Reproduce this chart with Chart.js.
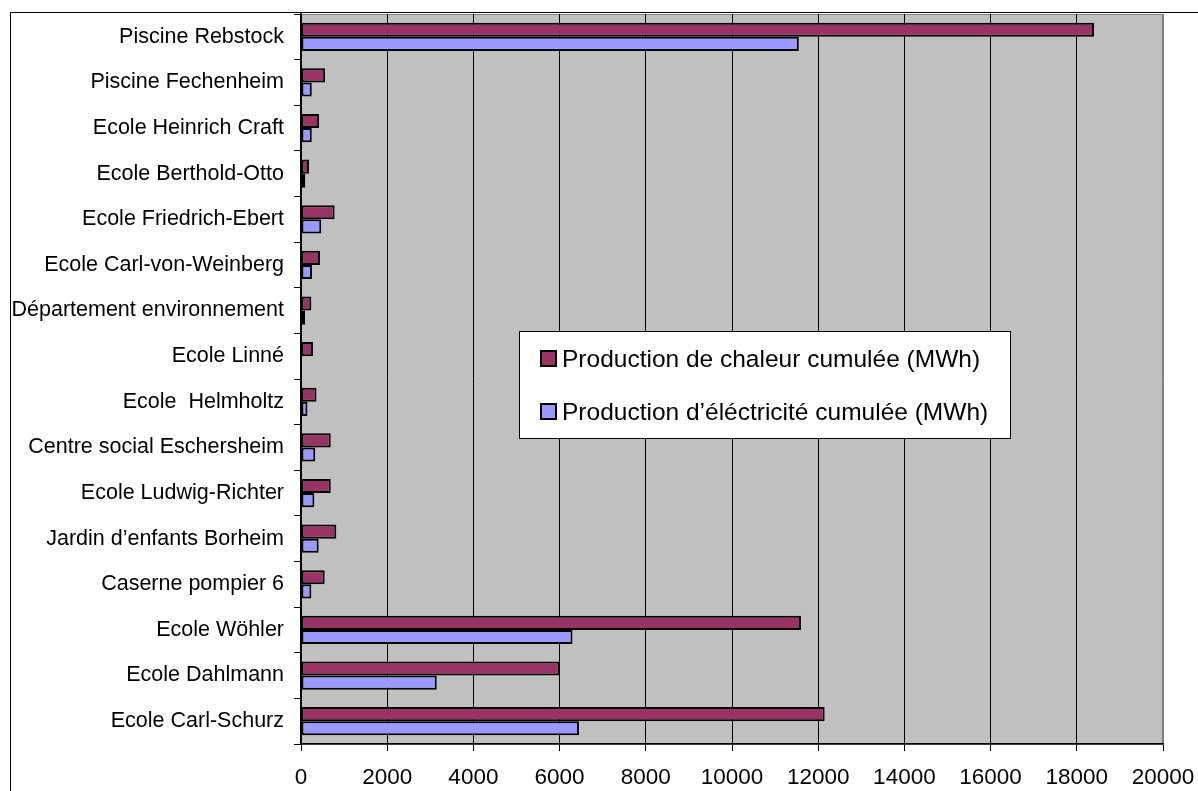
<!DOCTYPE html>
<html>
<head>
<meta charset="utf-8">
<script src="https://cdn.jsdelivr.net/npm/chart.js@4"></script>
<style>
  body { margin: 0; background: #fff; overflow: hidden; }
  #frame { position: absolute; left: 10px; top: 12px; width: 1400px; height: 1000px; border: 1.5px solid #000; }
  #c { position: absolute; left: 0; top: 0; }
</style>
</head>
<body>
<div id="frame"></div>
<canvas id="c" width="1198" height="791"></canvas>
<script>
const categories = [
  "Piscine Rebstock", "Piscine Fechenheim", "Ecole Heinrich Craft", "Ecole Berthold-Otto",
  "Ecole Friedrich-Ebert", "Ecole Carl-von-Weinberg", "Département environnement", "Ecole Linné",
  "Ecole  Helmholtz", "Centre social Eschersheim", "Ecole Ludwig-Richter", "Jardin d’enfants Borheim",
  "Caserne pompier 6", "Ecole Wöhler", "Ecole Dahlmann", "Ecole Carl-Schurz"
];
const heat = [18400, 560, 420, 185, 780, 440, 240, 280, 360, 690, 690, 820, 550, 11600, 6000, 12150];
const elec = [11550, 250, 250, 100, 470, 255, 95, 0, 150, 330, 310, 410, 240, 6300, 3150, 6450];
const seriesNames = ["Production de chaleur cumulée (MWh)", "Production d’éléctricité cumulée (MWh)"];

const font = "'Liberation Sans', Arial, sans-serif";

// grey plot area with a thin grey border
const plotBg = {
  id: "plotBg",
  beforeDraw(chart) {
    const { ctx, chartArea: a } = chart;
    ctx.save();
    ctx.fillStyle = "#C0C0C0";
    ctx.fillRect(a.left, a.top, a.right - a.left, a.bottom - a.top);
    ctx.strokeStyle = "#808080";
    ctx.lineWidth = 1;
    ctx.strokeRect(a.left + 0.5, a.top + 0.5, a.right - a.left - 1, a.bottom - a.top);
    ctx.restore();
  }
};

// legend box sitting inside the plot
const boxLegend = {
  id: "boxLegend",
  afterDraw(chart) {
    const ctx = chart.ctx;
    const x = 519, y = 331, w = 491, h = 107;
    ctx.save();
    ctx.fillStyle = "#fff";
    ctx.fillRect(x, y, w, h);
    ctx.strokeStyle = "#000";
    ctx.lineWidth = 1;
    ctx.strokeRect(x + 0.5, y + 0.5, w, h);
    ctx.font = "24.5px " + font;
    ctx.textBaseline = "middle";
    chart.data.datasets.forEach((ds, i) => {
      const cy = 359 + i * 53;
      ctx.fillStyle = ds.backgroundColor;
      ctx.fillRect(541, cy - 8, 15, 15);
      ctx.lineWidth = 2;
      ctx.strokeStyle = "#000";
      ctx.strokeRect(541, cy - 8, 15, 15);
      ctx.fillStyle = "#000";
      ctx.fillText(ds.label, 562, cy + 1);
    });
    ctx.restore();
  }
};

new Chart(document.getElementById("c"), {
  type: "bar",
  data: {
    labels: categories,
    datasets: [
      { label: seriesNames[0], data: heat, backgroundColor: "#993366", borderColor: "#000", borderWidth: 2, borderSkipped: false },
      { label: seriesNames[1], data: elec, backgroundColor: "#9999FF", borderColor: "#000", borderWidth: 2, borderSkipped: false }
    ]
  },
  options: {
    indexAxis: "y",
    responsive: false,
    animation: false,
    devicePixelRatio: 1,
    layout: { padding: { left: 0, top: 14, right: 35, bottom: 0 } },
    datasets: { bar: { categoryPercentage: 0.62, barPercentage: 1.0 } },
    plugins: { legend: { display: false }, title: { display: false }, tooltip: { enabled: false } },
    scales: {
      x: {
        min: 0, max: 20000,
        ticks: { stepSize: 2000, color: "#000", font: { family: font, size: 22.5 }, padding: 13, maxRotation: 0,
                 callback: v => String(v) },
        grid: {
          color: ctx => (ctx.tick && ctx.tick.value === 20000 ? "#808080" : "#000"),
          lineWidth: 1, drawTicks: true, tickLength: 7, tickColor: "#000"
        },
        border: { color: "#000", width: 1.5 },
        afterFit(scale) { scale.height = 47; scale.paddingLeft = 0; scale.paddingRight = 0; }
      },
      y: {
        ticks: { color: "#000", font: { family: font, size: 21.5 }, padding: 10, autoSkip: false },
        grid: { offset: true, drawOnChartArea: false, drawTicks: true, tickLength: 7, color: "#000" },
        border: { color: "#000", width: 1.5 },
        afterFit(scale) { scale.width = 301; scale.paddingTop = 0; scale.paddingBottom = 0; }
      }
    }
  },
  plugins: [plotBg, boxLegend]
});
</script>
</body>
</html>
